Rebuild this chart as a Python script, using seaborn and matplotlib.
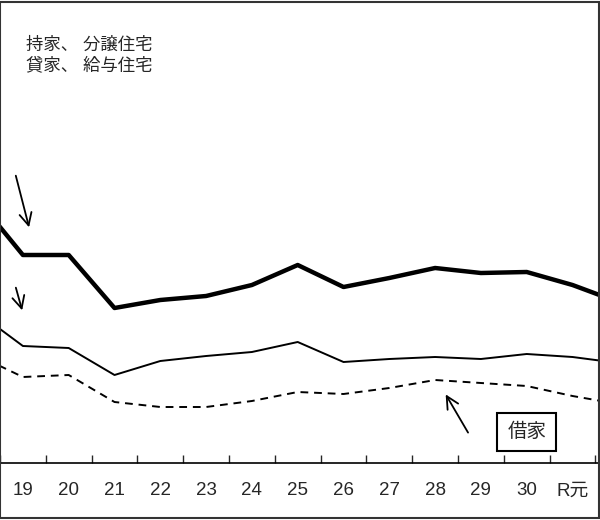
import matplotlib
matplotlib.use("Agg")
import matplotlib.pyplot as plt
import seaborn as sns
import pandas as pd
from matplotlib.patches import Rectangle

sns.set_style("white")
plt.rcParams["font.family"] = ["Liberation Sans", "Noto Sans CJK JP"]

years = [18, 19, 20, 21, 22, 23, 24, 25, 26, 27, 28, 29, 30, 31, 32]
year_labels = ["19", "20", "21", "22", "23", "24", "25", "26", "27", "28", "29", "30", "R元"]
owned = [321, 265, 265, 212, 220, 224, 235, 255, 233, 242, 252, 247, 248, 235, 218]
rented = [208, 174, 172, 145, 159, 164, 168, 178, 158, 161, 163, 161, 166, 163, 157]
leased = [165, 143, 145, 118, 113, 113, 119, 128, 126, 132, 140, 137, 134, 124, 116]

df = pd.DataFrame({"year": years, "owned": owned, "rented": rented, "leased": leased})

fig = plt.figure(figsize=(6, 5.2), dpi=100)
ax = fig.add_axes([0, 57 / 520, 1, 462 / 520])

sns.lineplot(data=df, x="year", y="owned", ax=ax, color="black", linewidth=3.2)
sns.lineplot(data=df, x="year", y="rented", ax=ax, color="black", linewidth=1.4)
sns.lineplot(data=df, x="year", y="leased", ax=ax, color="black", linewidth=1.4, linestyle=(0, (4, 3)))

ax.set_xlim(18.83, 31.6)
ax.set_ylim(57, 519)
ax.set_xlabel("")
ax.set_ylabel("")
ax.set_yticks([])
ax.set_xticks(range(19, 32))
ax.set_xticklabels(year_labels, fontsize=13.5)
ax.set_xticks([x + 0.5 for x in range(18, 32)], minor=True)
ax.tick_params(axis="x", which="major", length=0, pad=14)
ax.tick_params(axis="x", which="minor", direction="in", length=6, width=1, bottom=True)
for s in ["left", "right", "top"]:
    ax.spines[s].set_visible(False)
ax.spines["bottom"].set_linewidth(1.2)
ax.spines["bottom"].set_color("black")

fig.add_artist(Rectangle((0, 0.003), 0.999, 0.994, transform=fig.transFigure,
                         fill=False, edgecolor="#333333", linewidth=1.5))

fig.text(152 / 600, 1 - 45 / 520, "持家、 分譲住宅", fontsize=12.5, ha="right", va="center")
fig.text(152 / 600, 1 - 65 / 520, "貸家、 給与住宅", fontsize=12.5, ha="right", va="center")

arrow = dict(arrowstyle="->", color="black", lw=1.3, mutation_scale=22)
ax.annotate("", xy=(19.15, 290), xytext=(18.83, 347), arrowprops=arrow)
ax.annotate("", xy=(19.0, 207), xytext=(18.83, 235), arrowprops=arrow)
ax.annotate("", xy=(28.2, 128), xytext=(28.75, 85), arrowprops=arrow)
ax.text(30.0, 88, "借家", fontsize=14, ha="center", va="center",
        bbox=dict(boxstyle="square,pad=0.5", facecolor="white", edgecolor="black", linewidth=1.5))

fig.savefig("out.png", dpi=100)
